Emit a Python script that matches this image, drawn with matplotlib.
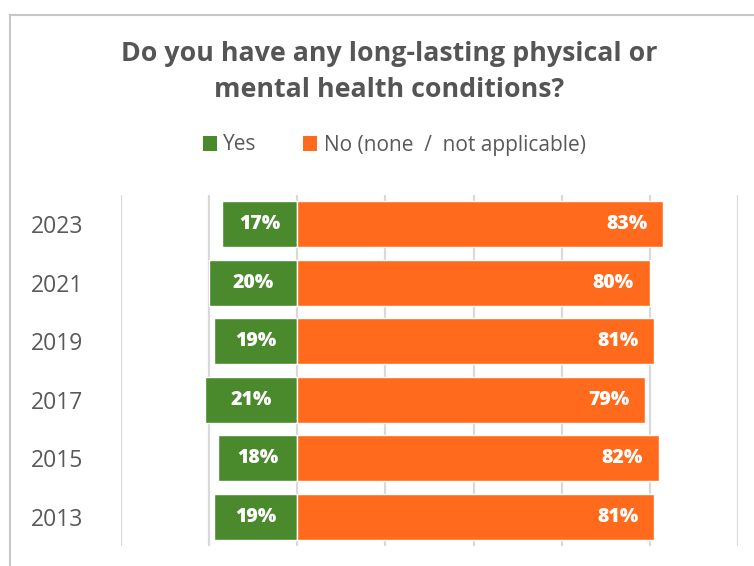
import matplotlib
matplotlib.use("Agg")
import matplotlib.pyplot as plt
from matplotlib.patches import Patch
from matplotlib.lines import Line2D

# Survey results, bottom row first
years = ["2013", "2015", "2017", "2019", "2021", "2023"]
yes_pct = [19, 18, 21, 19, 20, 17]
no_pct = [81, 82, 79, 81, 80, 83]
x_ticks = [-40, -20, 0, 20, 40, 60, 80, 100]

GREEN = "#4A8A2C"
ORANGE = "#FF6A1C"
GRID = "#D9D9D9"
TEXT = "#595959"
FONT = ["Open Sans", "DejaVu Sans"]

plt.rcParams["font.family"] = FONT

fig = plt.figure(figsize=(7.54, 5.66), dpi=100)
ax = fig.add_axes([121 / 754, 1 - 546 / 566, 617 / 754, 351 / 566])

ypos = list(range(len(years)))
ax.barh(ypos, [-v for v in yes_pct], height=0.79, color=GREEN,
        edgecolor="white", linewidth=1.0, zorder=3)
ax.barh(ypos, no_pct, height=0.79, color=ORANGE,
        edgecolor="white", linewidth=1.0, zorder=3)

for y, v in zip(ypos, yes_pct):
    ax.text(-v / 2, y, f"{v}%", ha="center", va="center", color="white",
            fontsize=14, fontweight=800, zorder=4)
for y, v in zip(ypos, no_pct):
    ax.text(v - 3.6, y, f"{v}%", ha="right", va="center", color="white",
            fontsize=14, fontweight=800, zorder=4)

ax.set_xlim(x_ticks[0], x_ticks[-1])
ax.set_ylim(-0.5, len(years) - 0.5)
ax.set_xticks(x_ticks)
ax.set_xticklabels([])
ax.set_yticks(ypos)
ax.set_yticklabels(years, fontsize=16.5, color=TEXT)
ax.tick_params(axis="y", length=0, pad=27)
ax.tick_params(axis="x", length=0)
ax.grid(axis="x", color=GRID, linewidth=1.6, zorder=0)
for s in ax.spines.values():
    s.set_visible(False)

fig.text(389 / 754, 1 - 72 / 566,
         "Do you have any long-lasting physical or\nmental health conditions?",
         ha="center", va="center", fontsize=19.3, fontweight="bold",
         color="#555555", linespacing=1.5)

handles = [Patch(facecolor=GREEN, edgecolor="none"),
           Patch(facecolor=ORANGE, edgecolor="none")]
fig.legend(handles, ["Yes", "No (none  /  not applicable)"],
           loc="center", bbox_to_anchor=(394 / 754, 1 - 145 / 566),
           ncol=2, frameon=False, fontsize=15, handlelength=0.7,
           handleheight=0.7, handletextpad=0.3, columnspacing=2.2,
           labelcolor=TEXT)

# Outer frame: left and top edges
frame_color = "#C8C8C8"
fig.add_artist(Line2D([10 / 754, 10 / 754], [0, 1 - 15 / 566],
                      color=frame_color, linewidth=1.5,
                      transform=fig.transFigure))
fig.add_artist(Line2D([10 / 754, 1], [1 - 15 / 566, 1 - 15 / 566],
                      color=frame_color, linewidth=1.5,
                      transform=fig.transFigure))

fig.savefig("out.png", dpi=100, facecolor="white")
